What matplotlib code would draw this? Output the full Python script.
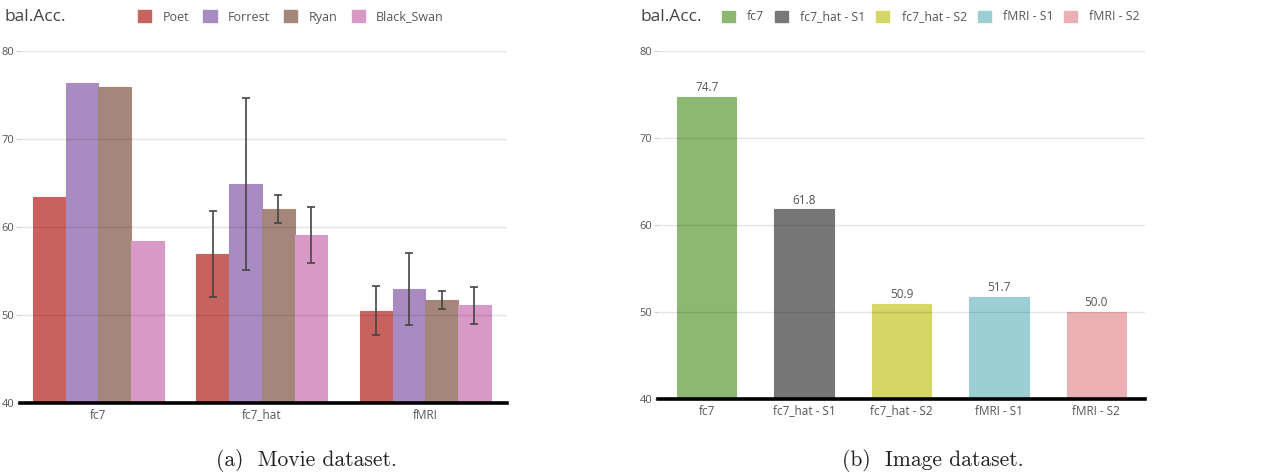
import numpy as np
import matplotlib
matplotlib.use("Agg")
import matplotlib.pyplot as plt
from matplotlib.patches import Patch

# ---------------- data ----------------
groups_a = ["fc7", "fc7_hat", "fMRI"]
series_a = ["Poet", "Forrest", "Ryan", "Black_Swan"]
poet = [63.4, 56.9, 50.5]
forrest = [76.4, 64.9, 53.0]
ryan = [75.9, 62.0, 51.7]
black_swan = [58.4, 59.1, 51.1]
poet_err = [np.nan, 4.9, 2.8]
forrest_err = [np.nan, 9.8, 4.1]
ryan_err = [np.nan, 1.6, 1.0]
black_swan_err = [np.nan, 3.2, 2.1]

cats_b = ["fc7", "fc7_hat - S1", "fc7_hat - S2", "fMRI - S1", "fMRI - S2"]
vals_b = [74.7, 61.8, 50.9, 51.7, 50.0]

yticks = [40, 50, 60, 70, 80]

colors_a = ["#c8625f", "#a88bc0", "#a4877a", "#d899c6"]
colors_b = ["#8db872", "#777777", "#d4d765", "#9ccfd4", "#eab0b3"]

plt.rcParams['font.family'] = ['Open Sans', 'DejaVu Sans']
TXT = "#555555"

fig = plt.figure(figsize=(12.81, 4.75), dpi=100)
W, H = 1281, 475

def style_axes(ax):
    ax.set_ylim(40, 80)
    ax.set_yticks(yticks)
    ax.grid(axis="y", color="black", alpha=0.1, linewidth=1)
    ax.set_axisbelow(False)
    for s in ["top", "right", "left"]:
        ax.spines[s].set_visible(False)
    ax.spines["bottom"].set_linewidth(2.6)
    ax.spines["bottom"].set_color("black")
    ax.spines["bottom"].set_zorder(5)
    ax.tick_params(axis="y", length=3, color="#cccccc", pad=1, labelsize=8, labelcolor=TXT)
    ax.tick_params(axis="x", length=0, pad=4, labelsize=8.5, labelcolor=TXT)

# ---------------- left panel ----------------
axa = fig.add_axes([20 / W, 1 - 403 / H, (507 - 20) / W, (403 - 51) / H])
x = np.arange(len(groups_a))
bw = 0.2
all_vals = [poet, forrest, ryan, black_swan]
all_errs = [poet_err, forrest_err, ryan_err, black_swan_err]
for i, (vals, errs, c) in enumerate(zip(all_vals, all_errs, colors_a)):
    pos = x + (i - 1.5) * bw
    axa.bar(pos, vals, bw, color=c, edgecolor=c, linewidth=0.8, zorder=2)
    errs = np.array(errs, dtype=float)
    m = ~np.isnan(errs)
    axa.errorbar(pos[m], np.array(vals)[m], yerr=errs[m], fmt="none",
                 ecolor="#444444", elinewidth=1.2, capsize=3, capthick=1.2, zorder=4)
axa.set_xlim(-0.48, 2.5)
axa.set_xticks(x)
axa.set_xticklabels(groups_a)
style_axes(axa)

# ---------------- right panel ----------------
axb = fig.add_axes([658 / W, 1 - 399 / H, (1145 - 658) / W, (399 - 51) / H])
xb = np.arange(len(cats_b))
axb.bar(xb, vals_b, 0.61, color=colors_b, edgecolor=colors_b, linewidth=0.8, zorder=2)
for xi, v in zip(xb, vals_b):
    axb.annotate(f"{v:.1f}", (xi, v), xytext=(0, 2), textcoords="offset points",
                 ha="center", va="bottom", fontsize=8.5, color=TXT)
axb.set_xlim(-0.5, 4.5)
axb.set_xticks(xb)
axb.set_xticklabels(cats_b)
style_axes(axb)

# ---------------- titles ----------------
fig.text(4 / W, 1 - 17 / H, "bal.Acc.", fontsize=12.5, color="#444444", va="center", ha="left")
fig.text(641 / W, 1 - 17 / H, "bal.Acc.", fontsize=12.5, color="#444444", va="center", ha="left")

# ---------------- legends ----------------
ha = [Patch(facecolor=c, edgecolor=c) for c in colors_a]
fig.legend(ha, series_a, loc="center left", bbox_to_anchor=(138 / W, 1 - 17 / H),
           ncol=4, frameon=False, fontsize=9, labelcolor=TXT,
           handlelength=1.05, handleheight=1.05, handletextpad=0.9,
           columnspacing=1.15, borderpad=0, borderaxespad=0)
hb = [Patch(facecolor=c, edgecolor=c) for c in colors_b]
fig.legend(hb, cats_b, loc="center left", bbox_to_anchor=(722 / W, 1 - 17 / H),
           ncol=5, frameon=False, fontsize=8.8, labelcolor=TXT,
           handlelength=1.05, handleheight=1.05, handletextpad=1.0,
           columnspacing=0.9, borderpad=0, borderaxespad=0)

# ---------------- captions ----------------
fig.text(306 / W, 1 - 460 / H, "(a)  Movie dataset.", fontsize=15.5, family="cmr10",
         ha="center", va="center", color="#222222")
fig.text(933 / W, 1 - 460 / H, "(b)  Image dataset.", fontsize=15.5, family="cmr10",
         ha="center", va="center", color="#222222")

fig.savefig("out.png", dpi=100)
